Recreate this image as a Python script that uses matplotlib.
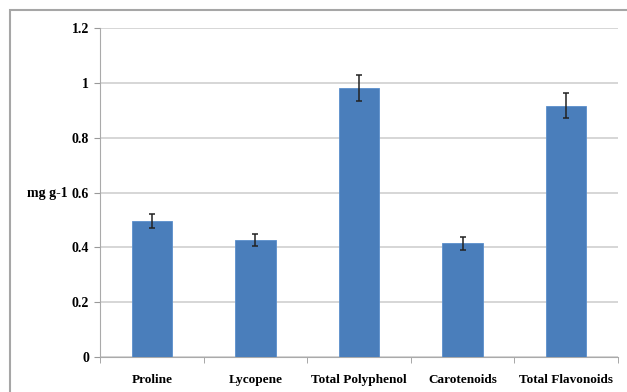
import matplotlib
matplotlib.use("Agg")
import matplotlib.pyplot as plt
import numpy as np
from matplotlib.patches import Rectangle

categories = ["Proline", "Lycopene", "Total Polyphenol", "Carotenoids", "Total Flavonoids"]
values = [0.497, 0.427, 0.980, 0.415, 0.916]
errors = [0.025, 0.022, 0.048, 0.024, 0.046]
yticks = [0, 0.2, 0.4, 0.6, 0.8, 1.0, 1.2]
ytick_labels = ["0", "0.2", "0.4", "0.6", "0.8", "1", "1.2"]

plt.rcParams['font.family'] = ['Liberation Serif', 'DejaVu Serif']
fig = plt.figure(figsize=(6.27, 3.92), dpi=100)
ax = fig.add_axes([100/627, 35/392, 518/627, 329/392])

x = np.arange(len(categories))
ax.bar(x, values, width=0.39, color="#4a7ebb", edgecolor="#5b8fcc", linewidth=0.6, zorder=3)
ax.errorbar(x, values, yerr=errors, fmt="none", ecolor="#222222", elinewidth=1.1,
            capsize=2.5, capthick=1.1, zorder=4)

ax.set_xlim(-0.5, len(categories) - 0.5)
ax.set_ylim(0, 1.2)
ax.set_yticks(yticks)
ax.set_yticklabels(ytick_labels, fontsize=10, fontweight="bold")
ax.set_xticks(x)
ax.set_xticklabels(categories, fontsize=9.5, fontweight="bold")
ax.tick_params(axis="x", which="major", length=0, pad=12)
ax.set_xticks(np.arange(-0.5, len(categories)), minor=True)
ax.tick_params(axis="x", which="minor", length=4, color="#999999")
ax.tick_params(axis="y", length=4, color="#999999", pad=4)
ax.yaxis.grid(True, color="#d0d0d0", linewidth=1.2, zorder=0)
ax.set_axisbelow(True)
for s in ["top", "right"]:
    ax.spines[s].set_visible(False)
ax.spines["left"].set_color("#aaaaaa")
ax.spines["bottom"].set_color("#aaaaaa")

fig.text(27/627, 1 - 193/392, "mg g-1", fontsize=10, fontweight="bold", va="center", ha="left")

fig.patches.append(Rectangle((10/627, -0.05), 1.0, 1 - 10/392 + 0.05, transform=fig.transFigure,
                             fill=False, edgecolor="#a6a6a6", linewidth=1.5))

fig.savefig("out.png", dpi=100)
